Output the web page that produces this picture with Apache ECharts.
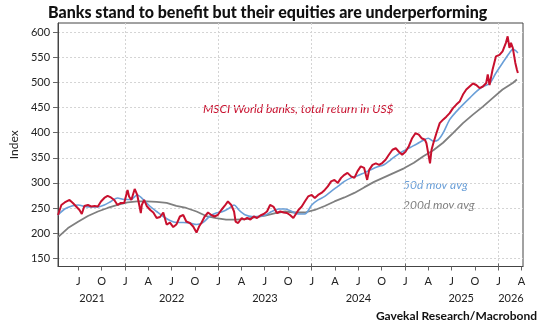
<!DOCTYPE html>
<html>
<head>
<meta charset="utf-8">
<script src="https://cdn.jsdelivr.net/npm/echarts@6/dist/echarts.min.js"></script>
<style>html,body{margin:0;padding:0;background:#fff}#c{width:547px;height:332px}</style>
</head>
<body>
<div id="c"></div>
<script>
// ---- data ----
const titleText = "Banks stand to benefit but their equities are underperforming";
const sourceText = "Gavekal Research/Macrobond";
const yAxisName = "Index";
const yTicks = [150, 200, 250, 300, 350, 400, 450, 500, 550, 600];
const monthLetters = {0: "J", 3: "A", 6: "J", 9: "O"};
const quarterTicks = ["2021-07-01","2021-10-01","2022-01-01","2022-04-01","2022-07-01","2022-10-01",
  "2023-01-01","2023-04-01","2023-07-01","2023-10-01","2024-01-01","2024-04-01","2024-07-01","2024-10-01",
  "2025-01-01","2025-04-01","2025-07-01","2025-10-01","2026-01-01","2026-04-01"];
const yearTicks = ["2022-01-01","2023-01-01","2024-01-01","2025-01-01","2026-01-01"];
const yearLabelDates = ["2021-08-24","2022-07-02","2023-07-02","2024-07-02","2025-08-08","2026-02-19"];
const yearLabels = ["2021","2022","2023","2024","2025","2026"];

const redDates = ["2021-04-13","2021-04-26","2021-05-09","2021-05-28","2021-06-10","2021-06-23","2021-07-06","2021-07-15","2021-07-25","2021-08-08",
"2021-08-21","2021-09-03","2021-09-16","2021-09-28","2021-10-11","2021-10-24","2021-11-06","2021-11-19","2021-12-02","2021-12-15",
"2021-12-28","2022-01-10","2022-01-16","2022-01-25","2022-02-07","2022-02-17","2022-03-03","2022-03-07","2022-03-16","2022-03-26",
"2022-04-09","2022-04-21","2022-05-04","2022-05-17","2022-05-30","2022-06-12","2022-06-25","2022-07-08","2022-07-20","2022-08-03",
"2022-08-16","2022-08-28","2022-09-11","2022-09-24","2022-10-07","2022-10-17","2022-10-26","2022-11-08","2022-11-21","2022-12-04",
"2022-12-16","2022-12-29","2023-01-12","2023-01-25","2023-02-07","2023-02-20","2023-03-03","2023-03-09","2023-03-19","2023-04-02",
"2023-04-11","2023-04-23","2023-05-06","2023-05-19","2023-06-01","2023-06-14","2023-06-27","2023-07-10","2023-07-22","2023-08-05",
"2023-08-18","2023-08-31","2023-09-13","2023-09-26","2023-10-08","2023-10-21","2023-10-27","2023-11-10","2023-11-23","2023-12-05",
"2023-12-18","2024-01-01","2024-01-13","2024-01-26","2024-02-08","2024-02-21","2024-03-04","2024-03-17","2024-03-30","2024-04-12",
"2024-04-25","2024-05-08","2024-05-20","2024-06-03","2024-06-16","2024-06-28","2024-07-11","2024-07-24","2024-08-05","2024-08-13",
"2024-08-26","2024-09-08","2024-09-21","2024-10-04","2024-10-16","2024-10-29","2024-11-12","2024-11-25","2024-12-07","2024-12-20",
"2025-01-02","2025-01-15","2025-01-28","2025-02-10","2025-02-23","2025-03-06","2025-03-19","2025-03-25","2025-04-08","2025-04-14",
"2025-04-21","2025-05-03","2025-05-16","2025-05-29","2025-06-11","2025-06-24","2025-07-07","2025-07-20","2025-08-02","2025-08-15",
"2025-08-28","2025-09-10","2025-09-23","2025-10-06","2025-10-19","2025-11-01","2025-11-14","2025-11-20","2025-11-27","2025-12-09",
"2025-12-22","2026-01-05","2026-01-17","2026-01-30","2026-02-06","2026-02-13","2026-02-19","2026-02-26","2026-03-02","2026-03-08",
"2026-03-14","2026-03-18"];
const redValues = [236,256,261,266,260,253,246,238,254,256,
253,254,253,263,270,274,271,266,256,260,
260,286,273,266,288,276,240,256,266,254,
246,241,230,232,241,217,221,212,217,233,
236,223,220,213,201,213,220,233,241,236,
233,236,246,254,263,256,243,223,220,230,
227,230,227,233,230,235,238,243,256,252,
240,243,241,240,236,230,227,246,253,263,
273,276,270,276,280,286,293,303,306,300,
310,316,320,313,310,323,333,330,306,326,
336,339,336,340,346,356,366,369,362,356,
362,373,389,399,396,389,386,379,339,366,
379,399,419,426,432,439,449,456,462,476,
486,492,498,495,489,492,499,516,495,526,
552,555,562,579,592,569,579,569,572,539,
526,519];

const ma50Dates = ["2021-04-13","2021-05-09","2021-06-06","2021-07-02","2021-07-25","2021-08-21","2021-09-16","2021-10-11","2021-11-06","2021-12-02",
"2021-12-28","2022-01-23","2022-02-17","2022-03-14","2022-04-09","2022-05-04","2022-05-30","2022-06-25","2022-07-20","2022-08-16",
"2022-09-11","2022-10-07","2022-11-01","2022-11-27","2022-12-23","2023-01-18","2023-02-13","2023-03-03","2023-03-22","2023-04-17",
"2023-05-13","2023-06-07","2023-07-03","2023-07-29","2023-08-24","2023-09-19","2023-10-15","2023-11-10","2023-12-05","2024-01-01",
"2024-01-26","2024-02-21","2024-03-17","2024-04-12","2024-05-08","2024-06-03","2024-06-28","2024-07-24","2024-08-19","2024-09-15",
"2024-10-10","2024-11-05","2024-12-01","2024-12-27","2025-01-22","2025-02-17","2025-03-13","2025-04-01","2025-04-21","2025-05-09",
"2025-05-29","2025-06-24","2025-07-20","2025-08-15","2025-09-10","2025-10-06","2025-11-01","2025-11-27","2025-12-22","2026-01-17",
"2026-02-13","2026-02-26","2026-03-08","2026-03-18"];
const ma50Values = [236,248,254,256,253,252,252,256,263,270,
267,267,276,266,253,243,233,225,221,221,
220,217,221,233,240,243,250,256,246,236,
233,233,236,243,248,248,243,238,238,256,
266,273,283,293,303,310,314,320,326,332,
336,346,356,364,371,378,385,389,383,385,
399,426,442,456,469,482,492,498,519,539,
559,566,564,559];

const ma200Dates = ["2021-04-13","2021-05-22","2021-07-02","2021-08-08","2021-09-16","2021-10-24","2021-12-02","2022-01-10","2022-02-17","2022-03-26",
"2022-05-04","2022-06-12","2022-07-20","2022-08-28","2022-10-07","2022-11-14","2022-12-23","2023-01-31","2023-03-09","2023-04-17",
"2023-05-26","2023-07-03","2023-08-12","2023-09-19","2023-10-27","2023-12-05","2024-01-13","2024-02-21","2024-03-30","2024-05-08",
"2024-06-16","2024-07-24","2024-09-01","2024-10-10","2024-11-18","2024-12-27","2025-02-04","2025-03-13","2025-04-21","2025-05-29",
"2025-07-07","2025-08-15","2025-09-23","2025-11-01","2025-12-09","2026-01-17","2026-02-26","2026-03-14"];
const ma200Values = [192,210,223,234,243,250,256,261,263,263,
262,260,254,250,243,234,230,227,227,228,
232,235,240,243,241,241,246,254,263,271,
280,291,302,311,320,329,340,353,365,380,
399,419,436,452,469,486,499,506];

const seriesNames = ["MSCI World banks, total return in US$", "50d mov avg", "200d mov avg"];
const colors = ["#c8102e", "#6a9fd8", "#7f7f7f"];

// ---- chart ----
const FONT = "Lato, 'Open Sans', Roboto, sans-serif";
const ts = d => Date.parse(d + "T00:00:00Z");
const pair = (d, v) => d.map((x, i) => [ts(x), v[i]]);
const chart = echarts.init(document.getElementById('c'), null, {renderer: 'canvas'});
const xMin = ts("2021-04-13"), xMax = ts("2026-04-07");
const qVals = quarterTicks.map(ts);
const jVals = yearTicks.map(ts);
const yLabVals = yearLabelDates.map(ts);
chart.setOption({
  animation: false,
  backgroundColor: "#fff",
  title: [
    {text: titleText, left: 43, top: 0,
     textStyle: {fontFamily: FONT, fontWeight: 900, fontSize: 16, color: "#111"}},
    {text: sourceText, right: 5, bottom: 5,
     textStyle: {fontFamily: FONT, fontWeight: "bold", fontSize: 12, color: "#111"}}
  ],
  grid: {left: 52, right: 24, top: 23, bottom: 65.5, show: true, borderColor: "#444", borderWidth: 1, containLabel: false},
  xAxis: [
    {type: "value", min: xMin, max: xMax, position: "bottom",
     axisLine: {show: true, lineStyle: {color: "#444", width: 1}},
     axisTick: {show: true, length: 4, lineStyle: {color: "#666"}, customValues: qVals},
     axisLabel: {show: true, margin: 9, fontFamily: FONT, fontSize: 11, color: "#222",
       customValues: qVals,
       formatter: v => monthLetters[new Date(v).getUTCMonth()] || ""},
     splitLine: {show: false}, minorSplitLine: {show: false}},
    {type: "value", min: xMin, max: xMax, position: "bottom", gridIndex: 0,
     axisLine: {show: false}, axisTick: {show: false},
     splitLine: {show: false}, minorSplitLine: {show: false},
     axisLabel: {show: true, margin: 26, fontFamily: FONT, fontSize: 11, color: "#222",
       customValues: yLabVals,
       formatter: v => { const i = yLabVals.indexOf(v); return i >= 0 ? yearLabels[i] : ""; }}},
    {type: "value", min: xMin, max: xMax, position: "bottom", gridIndex: 0,
     axisLine: {show: false}, axisLabel: {show: false},
     axisTick: {show: true, inside: true, length: 3, lineStyle: {color: "#666"}, customValues: jVals},
     splitLine: {show: true, lineStyle: {color: "#d4d4d4", type: [2, 2], width: 1}}, minorSplitLine: {show: false}}
  ],
  yAxis: {
    type: "value", min: 133.4, max: 618.6,
    name: yAxisName, nameLocation: "middle", nameGap: 30, nameRotate: 90,
    nameTextStyle: {fontFamily: FONT, fontSize: 12, color: "#222"},
    axisLine: {show: true, lineStyle: {color: "#444"}},
    axisTick: {show: true, length: 5, lineStyle: {color: "#666"}, customValues: yTicks},
    axisLabel: {margin: 8, fontFamily: FONT, fontSize: 11, color: "#222", customValues: yTicks},
    splitLine: {show: true, lineStyle: {color: "#d4d4d4", type: [2, 2], width: 1}}
  },
  series: [
    {name: seriesNames[2], type: "line", data: pair(ma200Dates, ma200Values), showSymbol: false,
     lineStyle: {color: colors[2], width: 1.8}, z: 2},
    {name: seriesNames[1], type: "line", data: pair(ma50Dates, ma50Values), showSymbol: false, smooth: 0.3,
     lineStyle: {color: colors[1], width: 1.6}, z: 3},
    {name: seriesNames[0], type: "line", data: pair(redDates, redValues), showSymbol: false,
     lineStyle: {color: colors[0], width: 2}, z: 4}
  ],
  graphic: [
    {type: "text", left: 203, top: 103, style: {text: seriesNames[0], font: "italic 12px " + FONT, fill: colors[0]}},
    {type: "text", left: 403, top: 179, style: {text: seriesNames[1], font: "italic 12px " + FONT, fill: colors[1]}},
    {type: "text", left: 403, top: 199, style: {text: seriesNames[2], font: "italic 12px " + FONT, fill: colors[2]}}
  ]
});
</script>
</body>
</html>
